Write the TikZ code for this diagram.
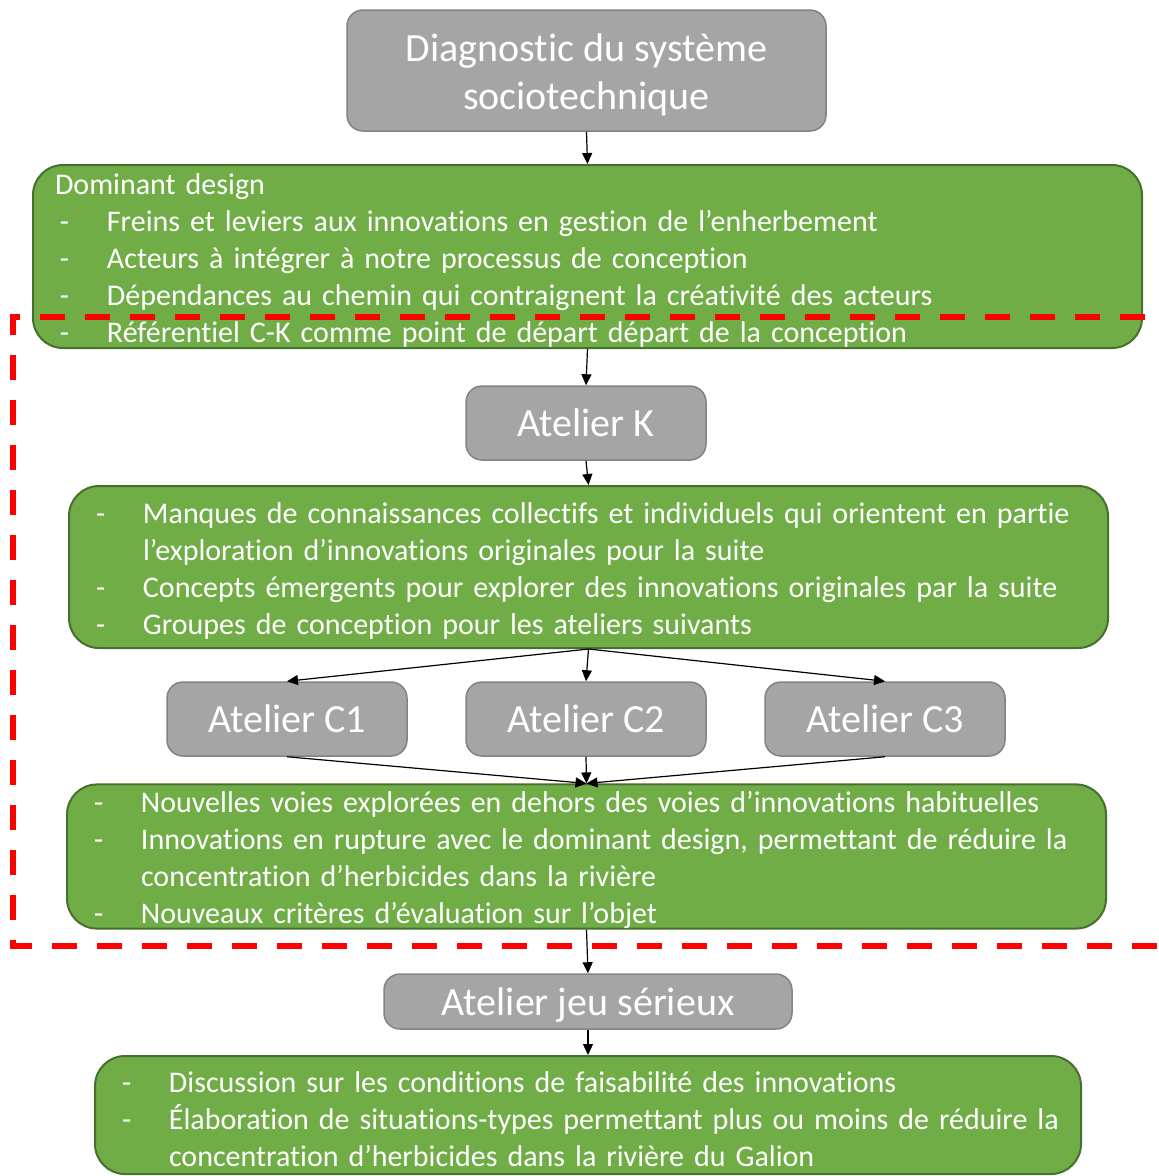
\documentclass[tikz,border=0pt]{standalone}
\usepackage{fontspec}
\setmainfont{Carlito}[Ligatures=NoCommon]
\usetikzlibrary{arrows.meta}

\definecolor{grisbox}{HTML}{A5A5A5}
\definecolor{grisbord}{HTML}{838383}
\definecolor{vertbox}{HTML}{70AD47}
\definecolor{vertbord}{HTML}{46702E}
\definecolor{rougecadre}{HTML}{FF0000}

\newcommand{\tiret}{\makebox[52pt][l]{\hspace{5pt}-}}
\newcommand{\retrait}{\hspace*{52pt}}
\newcommand{\cale}[1]{\rule{0pt}{#1}}

\tikzset{
  atelier/.style={draw=grisbord, fill=grisbox, line width=1.5pt, rounded corners=16pt,
    text=white, font=\fontsize{40}{48}\selectfont, align=center, inner sep=0pt},
  bilan/.style={draw=vertbord, fill=vertbox, line width=2pt, rounded corners=30pt,
    text=white, font=\fontsize{30}{37}\selectfont, align=left, inner xsep=22pt, inner ysep=0pt},
  fleche/.style={-{Triangle[length=11pt,width=10pt]}, line width=1.2pt},
  cadre/.style={rougecadre, line width=5.5pt, dash pattern=on 25pt off 20pt}
}

\begin{document}
\begin{tikzpicture}[x=1pt, y=-1pt]
\useasboundingbox (0,0) rectangle (1159,1176);

\node[atelier, minimum width=479pt, minimum height=121pt] (diag) at (586.5,70.5) {\cale{37pt}Diagnostic du système\\sociotechnique};

\node[bilan, text width=1065pt, minimum height=183pt] (dom) at (587.5,256.5) {\cale{28pt}Dominant design\\
\tiret Freins et leviers aux innovations en gestion de l’enherbement\\
\tiret Acteurs à intégrer à notre processus de conception\\
\tiret Dépendances au chemin qui contraignent la créativité des acteurs\\
\tiret Référentiel C-K comme point de départ départ de la conception};

\node[atelier, minimum width=240pt, minimum height=74pt] (ak) at (586,423) {Atelier K};

\node[bilan, text width=995pt, minimum height=162pt] (conn) at (588.5,567) {\cale{28pt}\tiret Manques de connaissances collectifs et individuels qui orientent en partie\\
\retrait l’exploration d’innovations originales pour la suite\\
\tiret Concepts émergents pour explorer des innovations originales par la suite\\
\tiret Groupes de conception pour les ateliers suivants};

\node[atelier, minimum width=240pt, minimum height=74pt] (c1) at (287,719) {Atelier C1};
\node[atelier, minimum width=240pt, minimum height=74pt] (c2) at (586,719) {Atelier C2};
\node[atelier, minimum width=240pt, minimum height=74pt] (c3) at (885,719) {Atelier C3};

\node[bilan, text width=995pt, minimum height=141pt] (innov) at (586.5,856.5) {\cale{28pt}\tiret Nouvelles voies explorées en dehors des voies d’innovations habituelles\\
\tiret Innovations en rupture avec le dominant design, permettant de réduire la\\
\retrait concentration d’herbicides dans la rivière\\
\tiret Nouveaux critères d’évaluation sur l’objet};

\node[atelier, minimum width=408pt, minimum height=55pt] (jeu) at (588,1001.5) {\cale{34pt}Atelier jeu sérieux};

\node[bilan, text width=942pt, minimum height=118pt] (faisab) at (588,1115) {\cale{30pt}\tiret Discussion sur les conditions de faisabilité des innovations\\
\tiret Élaboration de situations-types permettant plus ou moins de réduire la\\
\retrait concentration d’herbicides dans la rivière du Galion};

% fleches
\draw[fleche] (diag.south) -- (dom.north);
\draw[fleche] (dom.south) -- (ak.north);
\draw[fleche] (ak.south) -- (conn.north);
\draw[fleche] (conn.south) -- (c1.north);
\draw[fleche] (conn.south) -- (c2.north);
\draw[fleche] (conn.south) -- (c3.north);
\draw[fleche] (c1.south) -- (innov.north);
\draw[fleche] (c2.south) -- (innov.north);
\draw[fleche] (c3.south) -- (innov.north);
\draw[fleche] (innov.south) -- (jeu.north);
\draw[fleche] (jeu.south) -- (faisab.north);

% cadre rouge
\draw[cadre] (1145,317) -- (13,317) -- (13,946) -- (1159,946);
\end{tikzpicture}
\end{document}
